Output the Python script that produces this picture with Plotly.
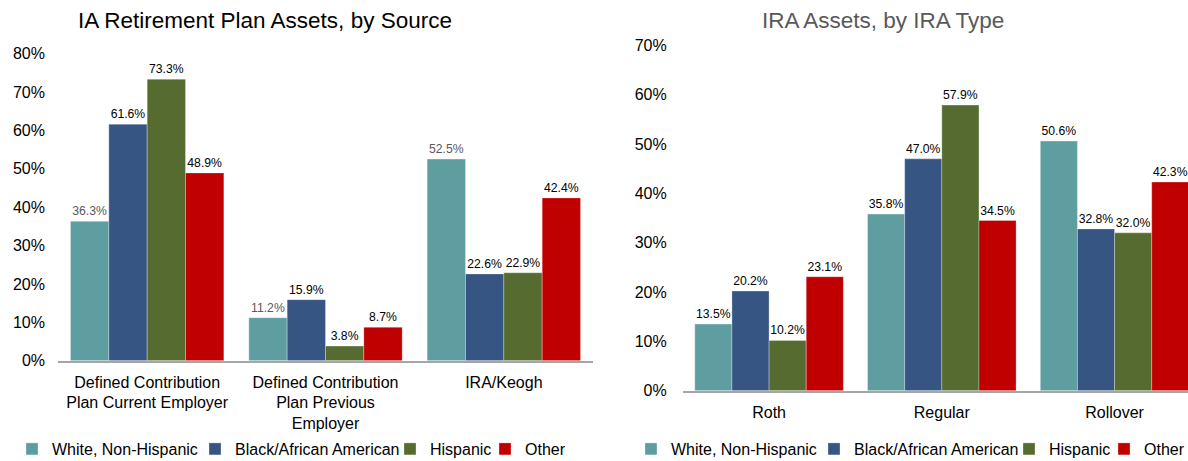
import plotly.graph_objects as go

# ---------------- data ----------------
series_names = ["White, Non-Hispanic", "Black/African American", "Hispanic", "Other"]

left_title = "IA Retirement Plan Assets, by Source"
left_categories = [
    "Defined Contribution<br>Plan Current Employer",
    "Defined Contribution<br>Plan Previous<br>Employer",
    "IRA/Keogh",
]
left_white = [0.363, 0.112, 0.525]
left_black = [0.616, 0.159, 0.226]
left_hispanic = [0.733, 0.038, 0.229]
left_other = [0.489, 0.087, 0.424]

right_title = "IRA Assets, by IRA Type"
right_categories = ["Roth", "Regular", "Rollover"]
right_white = [0.135, 0.358, 0.506]
right_black = [0.202, 0.470, 0.328]
right_hispanic = [0.102, 0.579, 0.320]
right_other = [0.231, 0.345, 0.423]

# ---------------- style ----------------
W, H = 1188, 461
colors = ["#5F9EA0", "#375582", "#556B2F", "#C00000"]
left_label_colors = ["#595959", "#000000", "#000000", "#000000"]
right_label_colors = ["#000000", "#000000", "#000000", "#000000"]
legend_widths = [138, 150, 50, 45]
FONT = "Liberation Sans, Arial, sans-serif"

fig = go.Figure()

left_vals = [left_white, left_black, left_hispanic, left_other]
right_vals = [right_white, right_black, right_hispanic, right_other]

for i, name in enumerate(series_names):
    fig.add_trace(go.Bar(
        x=left_categories, y=left_vals[i], name=name,
        marker=dict(color=colors[i], line=dict(color="rgba(255,255,255,0.6)", width=0.5)),
        texttemplate="%{y:.1%}", textposition="outside", cliponaxis=False,
        textfont=dict(size=12.2, color=left_label_colors[i], family=FONT),
        xaxis="x", yaxis="y", legend="legend", legendwidth=legend_widths[i],
        hoverinfo="skip",
    ))
for i, name in enumerate(series_names):
    fig.add_trace(go.Bar(
        x=right_categories, y=right_vals[i], name=name,
        marker=dict(color=colors[i], line=dict(color="rgba(255,255,255,0.6)", width=0.5)),
        texttemplate="%{y:.1%}", textposition="outside", cliponaxis=False,
        textfont=dict(size=12.2, color=right_label_colors[i], family=FONT),
        xaxis="x2", yaxis="y2", legend="legend2", legendwidth=legend_widths[i],
        hoverinfo="skip",
    ))

def px_x(p):
    return p / W

def px_y(p):
    return (H - p) / H

axis_line = dict(showline=True, linecolor="#A6A6A6", linewidth=1.5, ticks="",
                 showgrid=False, zeroline=False, type="category",
                 ticklabelstandoff=6,
                 tickfont=dict(size=16, color="#000000", family=FONT))
y_common = dict(showgrid=False, zeroline=False, showline=False, ticks="",
                tickformat=".0%", dtick=0.1,
                tickfont=dict(size=16, color="#000000", family=FONT))

fig.update_layout(
    width=W, height=H,
    margin=dict(l=0, r=0, t=0, b=0, autoexpand=False),
    paper_bgcolor="white", plot_bgcolor="white",
    barmode="group", bargap=0.14, bargroupgap=0,
    font=dict(family=FONT, color="#000000"),
    xaxis=dict(domain=[px_x(58), px_x(593)], anchor="y", range=[-0.5, 2.5], **axis_line),
    yaxis=dict(domain=[px_y(360.7), px_y(53.5)], anchor="x", range=[0, 0.8],
               ticklabelstandoff=12, **y_common),
    xaxis2=dict(domain=[px_x(682.7), 1.0], anchor="y2", range=[-0.5, 2.425], **axis_line),
    yaxis2=dict(domain=[px_y(390.7), px_y(45.4)], anchor="x2", range=[0, 0.7],
                ticklabelstandoff=15, **y_common),
    legend=dict(orientation="h", x=px_x(12), xanchor="left", y=px_y(449), yanchor="middle",
                font=dict(size=16, color="#000000", family=FONT), bgcolor="rgba(0,0,0,0)",
                traceorder="normal"),
    legend2=dict(orientation="h", x=px_x(631), xanchor="left", y=px_y(449), yanchor="middle",
                 font=dict(size=16, color="#000000", family=FONT), bgcolor="rgba(0,0,0,0)",
                 traceorder="normal"),
    annotations=[
        dict(text=left_title, xref="paper", yref="paper", x=px_x(265), y=px_y(20),
             xanchor="center", yanchor="middle", showarrow=False,
             font=dict(size=22.5, color="#000000", family=FONT)),
        dict(text=right_title, xref="paper", yref="paper", x=px_x(882.5), y=px_y(20),
             xanchor="center", yanchor="middle", showarrow=False,
             font=dict(size=22.5, color="#595959", family=FONT)),
    ],
)

fig.write_html("out.html")
